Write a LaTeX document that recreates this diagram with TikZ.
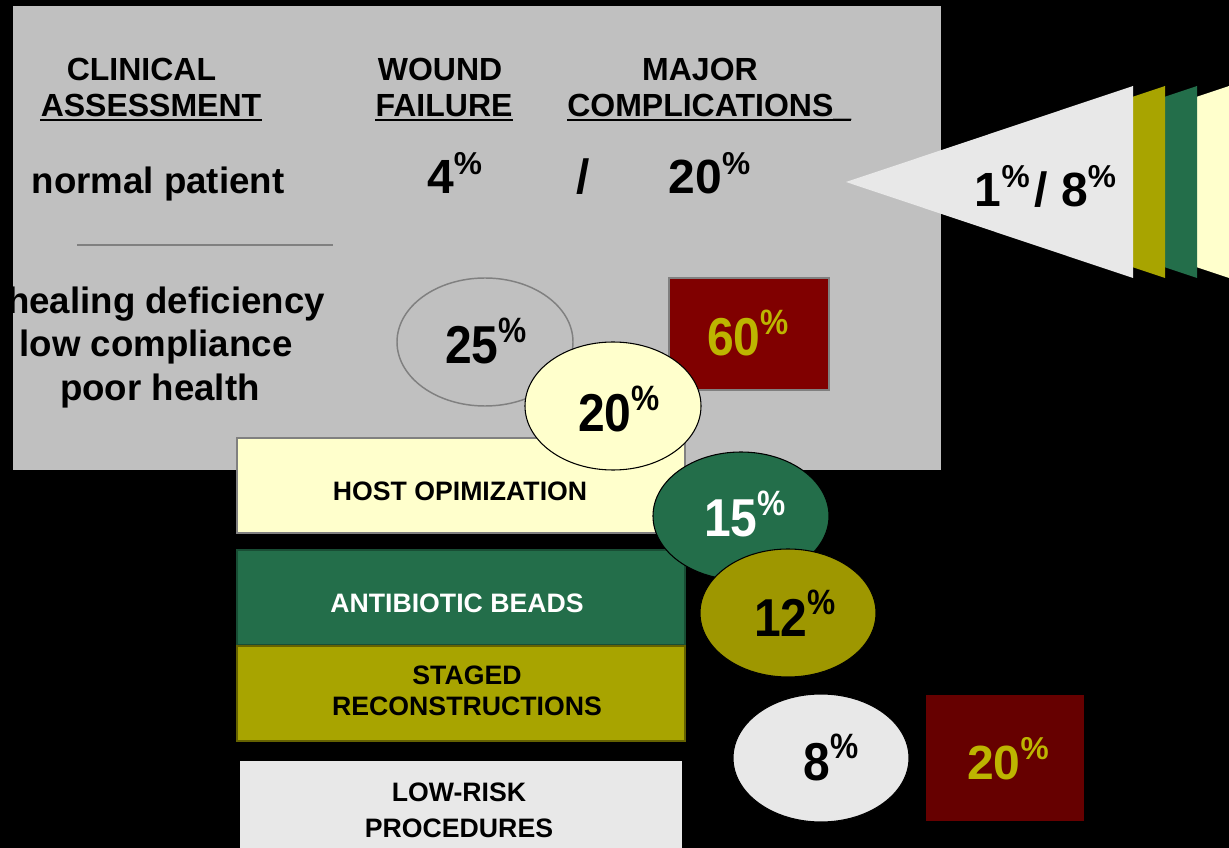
\documentclass[tikz,border=0pt]{standalone}
\usepackage{fontspec}
\setmainfont{Liberation Sans}
\newfontfamily\condfont{Liberation Sans}[FakeStretch=0.9]
\usetikzlibrary{shapes.geometric}
\definecolor{slidegray}{HTML}{C0C0C0}
\definecolor{cream}{HTML}{FFFFCC}
\definecolor{dgreen}{HTML}{236E4A}
\definecolor{olive}{HTML}{A8A400}
\definecolor{olivedk}{HTML}{9E9700}
\definecolor{lgray}{HTML}{E8E8E8}
\definecolor{redA}{HTML}{800000}
\definecolor{redB}{HTML}{660000}
\definecolor{gold}{HTML}{BDB500}
\definecolor{rulegray}{HTML}{808080}
\newcommand\pc{\raisebox{0.4em}{\scalebox{0.66}{\%}}}
\tikzset{
  hdr/.style={inner sep=0, anchor=base, font=\fontsize{24}{28}\selectfont\bfseries},
  lbl/.style={inner sep=0, anchor=base, font=\fontsize{27.5}{33}\selectfont\bfseries},
  big/.style={inner sep=0, anchor=base, font=\fontsize{36}{40}\selectfont\bfseries},
  num/.style={inner sep=0, anchor=base, font=\condfont\fontsize{40}{44}\selectfont\bfseries},
  boxt/.style={inner sep=0, align=center, font=\fontsize{20}{23.5}\selectfont\bfseries},
  uline/.style={line width=1.5pt},
  bar/.style={rectangle, inner sep=0, minimum width=336pt, minimum height=71.25pt, line width=0.8pt},
  blob/.style={ellipse, inner sep=0, minimum width=132pt, minimum height=96pt, line width=0.8pt},
}
\begin{document}
\begin{tikzpicture}[x=0.75pt,y=-0.75pt]
\useasboundingbox (0,0) rectangle (1229,848);
\fill[black] (0,0) rectangle (1229,848);
% grey panel
\fill[slidegray] (13,6) rectangle (941,470);
% headers
\node[hdr] (clin) at (141.5,81) {CLINICAL};
\node[hdr] (assess) at (151,117) {ASSESSMENT};
\draw[uline] ([yshift=-2.25pt]assess.base west) -- ([yshift=-2.25pt]assess.base east);
\node[hdr] (wound) at (440,81) {WOUND};
\node[hdr] (fail) at (444,117) {FAILURE};
\draw[uline] ([yshift=-2.25pt]fail.base west) -- ([yshift=-2.25pt]fail.base east);
\node[hdr] (major) at (700,81) {MAJOR};
\node[hdr, anchor=base west] (compl) at (567,117) {COMPLICATIONS\_};
\draw[uline] ([yshift=-2.25pt]compl.base west) -- ([yshift=-2.25pt]compl.base east);
% normal patient row
\node[lbl] (normal) at (158,194) {normal patient};
\node[big, anchor=base west] (wf) at (427,194) {4\pc};
\node[big] (slash) at (583,194) {/};
\node[big] (mc) at (709.5,194) {20\pc};
\coordinate (divL) at (77,245);
\coordinate (divR) at (333,245);
\draw[rulegray, line width=1.1pt] (divL) -- (divR);
% risk patient
\node[lbl] (heal) at (166,314) {healing deficiency};
\node[lbl] (lowc) at (156,357) {low compliance};
\node[lbl] (poor) at (160,401) {poor health};
\node[blob, draw=rulegray, line width=1.1pt] (e25) at (485,342) {};
\node[num] (t25) at (486,364) {25\pc};
\node[rectangle, inner sep=0, minimum width=120pt, minimum height=84pt, fill=redA, draw=rulegray, line width=1.5pt] (r60) at (749,334) {};
\node[num, text=gold] (t60) at (748,356) {60\pc};
% bars and ellipses
\node[bar, fill=cream, draw=rulegray] (host) at (461,485.5) {};
\node[boxt] (hostT) at (460,491) {HOST OPIMIZATION};
\node[blob, fill=cream, draw=black] (e20) at (613,406) {};
\node[num] (t20) at (619,432) {20\pc};
\node[bar, fill=dgreen, draw=dgreen!70!black] (beads) at (461,597.5) {};
\node[boxt, text=white] (beadsT) at (457,603) {ANTIBIOTIC BEADS};
\node[bar, fill=olive, draw=olive!60!black] (staged) at (461,693.5) {};
\node[boxt] (stagedT) at (467,691) {STAGED\\RECONSTRUCTIONS};
\node[blob, fill=dgreen, draw=black] (e15) at (741,516) {};
\node[num, text=white] (t15) at (745,537) {15\pc};
\node[blob, fill=olivedk, draw=black] (e12) at (788,613) {};
\node[num] (t12) at (795,636) {12\pc};
\node[rectangle, inner sep=0, minimum width=331.5pt, minimum height=75pt, fill=lgray] (low) at (461,811) {};
\node[boxt, font=\fontsize{20}{27}\selectfont\bfseries] (lowT) at (459,810) {LOW-RISK\\PROCEDURES};
\node[blob, fill=lgray, draw=black] (e8) at (821,758) {};
\node[num] (t8) at (831,780) {8\pc};
\node[rectangle, inner sep=0, minimum width=118.5pt, minimum height=94.5pt, fill=redB] (r20) at (1005,758) {};
\node[big, text=gold] (t20b) at (1008,779) {20\pc};
% fan of triangles
\fill[cream] (942,182) -- (1229,86) -- (1229,278) -- cycle;
\fill[cream] (1229,86) rectangle (1261,278);
\fill[dgreen] (910,182) -- (1197,86) -- (1197,278) -- cycle;
\fill[olive] (878,182) -- (1165,86) -- (1165,278) -- cycle;
\fill[lgray] (846,182) -- (1133,86) -- (1133,278) -- cycle;
\node[big] (tri) at (1045.5,207) {1\pc\kern0.1em/ 8\pc};
\end{tikzpicture}
\end{document}
